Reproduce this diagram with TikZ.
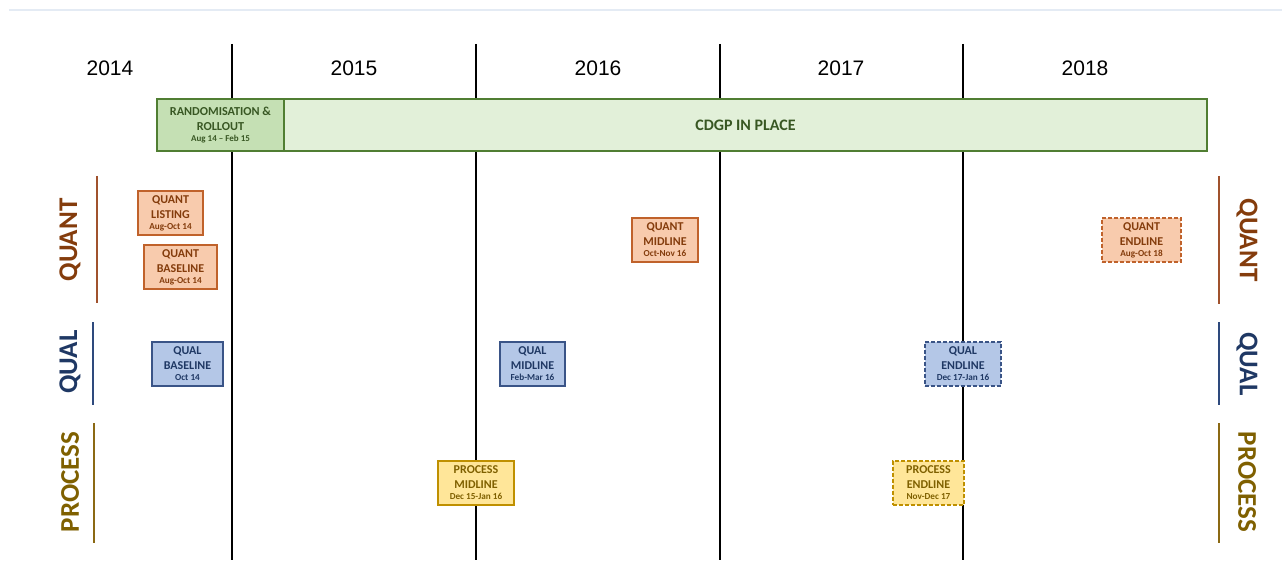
\documentclass[tikz,border=0pt]{standalone}
\usepackage{fontspec}
\setmainfont{Carlito}
\newfontfamily\yearfont{Liberation Sans}
\begin{document}
\begin{tikzpicture}[x=1pt,y=-1pt,
  yearlbl/.style={font=\yearfont\fontsize{21}{21}\selectfont, text=black},
  boxbase/.style={draw, line width=1.2pt, inner sep=0pt, align=center, font=\bfseries\fontsize{12}{15}\selectfont},
  quantbox/.style={boxbase, fill=quantfill, draw=quantline, text=quanttext},
  qualbox/.style={boxbase, fill=qualfill, draw=qualline, text=qualtext},
  procbox/.style={boxbase, fill=procfill, draw=procline, text=proctext},
  planned/.style={dash pattern=on 4pt off 2pt},
  sidelbl/.style={font=\bfseries\fontsize{27}{27}\selectfont},
  sidebar/.style={line width=2pt},
  yearline/.style={line width=2.6pt, black}
]
\definecolor{quantfill}{HTML}{F8CBAD}
\definecolor{quantline}{HTML}{C0622B}
\definecolor{quanttext}{HTML}{843C0C}
\definecolor{qualfill}{HTML}{B4C7E7}
\definecolor{qualline}{HTML}{3A5487}
\definecolor{qualtext}{HTML}{1F3864}
\definecolor{procfill}{HTML}{FFE699}
\definecolor{procline}{HTML}{BF9000}
\definecolor{proctext}{HTML}{7F6000}
\definecolor{grnline}{HTML}{507E32}
\definecolor{grndark}{HTML}{C5E0B4}
\definecolor{grnlight}{HTML}{E2F0D9}
\definecolor{grntext}{HTML}{385723}
\definecolor{topline}{HTML}{E4EBF4}
\definecolor{quantbar}{HTML}{A0522D}
\definecolor{qualbar}{HTML}{2E4A7D}
\definecolor{procbar}{HTML}{8B6914}
\newcommand{\sml}[1]{{\fontsize{9.2}{12}\selectfont #1}}

\fill[white] (0,0) rectangle (1282,585);
\useasboundingbox (0,0) rectangle (1282,585);

% top rule
\coordinate (tl) at (9,10);
\coordinate (tr) at (1282,10);
\draw[topline, line width=1.5pt] (tl) -- (tr);

% year lines
\foreach \n/\x in {a/232,b/476,c/720,d/963}{
  \coordinate (\n top) at (\x,44);
  \coordinate (\n bot) at (\x,560);
  \draw[yearline] (\n top) -- (\n bot);
}

% year labels
\node[yearlbl] (y2014) at (110,68) {2014};
\node[yearlbl] (y2015) at (354,68) {2015};
\node[yearlbl] (y2016) at (598,68) {2016};
\node[yearlbl] (y2017) at (841,68) {2017};
\node[yearlbl] (y2018) at (1085,68) {2018};

% green bar
\node[draw=grnline, fill=grnlight, line width=1.2pt, minimum width=923pt, minimum height=52pt, inner sep=0pt,
      font=\bfseries\fontsize{16}{16}\selectfont, text=grntext] (cdgp) at (745.5,125) {CDGP IN PLACE};
\node[draw=grnline, fill=grndark, line width=1.2pt, minimum width=127pt, minimum height=52pt, inner sep=0pt,
      align=center, font=\bfseries\fontsize{12.2}{15}\selectfont, text=grntext] (rand) at (220.5,125)
      {RANDOMISATION \&\\ROLLOUT\\[-3.5pt]{\fontsize{9}{12}\selectfont Aug 14 -- Feb 15}};

% quant boxes
\node[quantbox, minimum width=65pt, minimum height=44pt] (qlist) at (170.5,213) {QUANT\\LISTING\\[-4pt]\sml{Aug-Oct 14}};
\node[quantbox, minimum width=73pt, minimum height=44pt] (qbase) at (180.5,267) {QUANT\\BASELINE\\[-4pt]\sml{Aug-Oct 14}};
\node[quantbox, minimum width=66pt, minimum height=44pt] (qmid) at (665,240) {QUANT\\MIDLINE\\[-4pt]\sml{Oct-Nov 16}};
\node[quantbox, planned, minimum width=79pt, minimum height=44pt] (qend) at (1141.5,240) {QUANT\\ENDLINE\\[-4pt]\sml{Aug-Oct 18}};

% qual boxes
\node[qualbox, minimum width=71pt, minimum height=44pt] (lbase) at (187.5,364) {QUAL\\BASELINE\\[-4pt]\sml{Oct 14}};
\node[qualbox, minimum width=65pt, minimum height=44pt] (lmid) at (532.5,364) {QUAL\\MIDLINE\\[-4pt]\sml{Feb-Mar 16}};
\node[qualbox, planned, minimum width=76pt, minimum height=44pt] (lend) at (963,364) {QUAL\\ENDLINE\\[-4pt]\sml{Dec 17-Jan 16}};

% process boxes
\node[procbox, minimum width=76pt, minimum height=44pt] (pmid) at (476,483) {PROCESS\\MIDLINE\\[-4pt]\sml{Dec 15-Jan 16}};
\node[procbox, planned, minimum width=71pt, minimum height=44pt] (pend) at (928.5,483) {PROCESS\\ENDLINE\\[-4pt]\sml{Nov-Dec 17}};

% left side labels
\node[sidelbl, text=quanttext, rotate=90] (lq) at (70,240) {QUANT};
\node[sidelbl, text=qualtext, rotate=90] (ll) at (70,362) {QUAL};
\node[sidelbl, text=proctext, rotate=90] (lp) at (70,482) {PROCESS};
\coordinate (lq1) at (97,176); \coordinate (lq2) at (97,303);
\coordinate (ll1) at (93,322); \coordinate (ll2) at (93,405);
\coordinate (lp1) at (94,423); \coordinate (lp2) at (94,543);
\draw[sidebar, quantbar] (lq1) -- (lq2);
\draw[sidebar, qualbar] (ll1) -- (ll2);
\draw[sidebar, procbar] (lp1) -- (lp2);

% right side labels
\node[sidelbl, text=quanttext, rotate=-90] (rq) at (1247,240) {QUANT};
\node[sidelbl, text=qualtext, rotate=-90] (rl) at (1247,364) {QUAL};
\node[sidelbl, text=proctext, rotate=-90] (rp) at (1247,482) {PROCESS};
\coordinate (rq1) at (1219,176); \coordinate (rq2) at (1219,304);
\coordinate (rl1) at (1219,322); \coordinate (rl2) at (1219,405);
\coordinate (rp1) at (1219,423); \coordinate (rp2) at (1219,543);
\draw[sidebar, quantbar] (rq1) -- (rq2);
\draw[sidebar, qualbar] (rl1) -- (rl2);
\draw[sidebar, procbar] (rp1) -- (rp2);
\end{tikzpicture}
\end{document}
